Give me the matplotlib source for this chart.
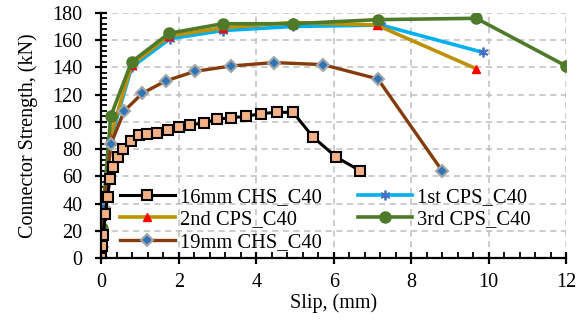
import matplotlib
matplotlib.use("Agg")
import matplotlib.pyplot as plt
from matplotlib.ticker import MultipleLocator

plt.rcParams['font.family'] = ['Liberation Serif', 'DejaVu Serif']

# Data
x16 = [0, 0.02, 0.05, 0.10, 0.16, 0.22, 0.30, 0.42, 0.57, 0.76, 0.97, 1.19, 1.44, 1.71,
       2.01, 2.30, 2.64, 2.99, 3.35, 3.73, 4.11, 4.53, 4.95, 5.46, 6.07, 6.69]
y16 = [0, 9, 17, 32, 45, 58, 67, 74, 80, 86, 90, 91, 92, 94,
       96, 98, 99, 102, 103, 104, 106, 107, 107, 89, 74, 64]

x1st = [0, 0.01, 0.22, 0.78, 1.77, 3.14, 4.95, 7.23, 9.85]
y1st = [0, 20, 85, 140, 161, 167, 170, 171, 151]

x2nd = [0, 0.01, 0.22, 0.78, 1.75, 3.13, 4.95, 7.11, 9.68]
y2nd = [0, 21, 88, 142, 163, 169, 173, 171, 139]

x3rd = [0, 0.01, 0.24, 0.78, 1.75, 3.13, 4.95, 7.14, 9.68, 12.0]
y3rd = [0, 22, 104, 144, 165, 172, 172, 175, 176, 141]

x19 = [0, 0.01, 0.07, 0.25, 0.59, 1.06, 1.66, 2.41, 3.35, 4.46, 5.72, 7.14, 8.80]
y19 = [0, 8, 37, 84, 108, 121, 130, 137, 141, 143.5, 142, 131.5, 64]

fig = plt.figure(figsize=(5.86, 3.21), dpi=100)
ax = fig.add_axes([0.173, 0.196, 0.793, 0.764])

h16, = ax.plot(x16, y16, color='black', lw=2.2, marker='s', ms=7.5,
               mfc='#F4B183', mec='black', mew=1.5, label='16mm CHS_C40', zorder=5)
h1, = ax.plot(x1st, y1st, color='#00B0F0', lw=2.6, marker=(6, 2, 0), ms=7,
              mec='#4472C4', mew=1.3, label='1st CPS_C40', zorder=3)
h2, = ax.plot(x2nd, y2nd, color='#BF9000', lw=2.6, marker='^', ms=6,
              mfc='#FF0000', mec='#FF0000', label='2nd CPS_C40', zorder=3.5)
h3, = ax.plot(x3rd, y3rd, color='#4E7A2A', lw=2.6, marker='o', ms=8,
              mfc='#4E7A2A', mec='#4E7A2A', label='3rd CPS_C40', zorder=4)
h19, = ax.plot(x19, y19, color='#843C0C', lw=2.4, marker='D', ms=6.5,
               mfc='#2E75B6', mec='#A5A5A5', mew=1.5, label='19mm CHS_C40', zorder=4.5)

ax.set_xlim(0, 12)
ax.set_ylim(0, 180)
ax.xaxis.set_major_locator(MultipleLocator(2))
ax.xaxis.set_minor_locator(MultipleLocator(0.4))
ax.yaxis.set_major_locator(MultipleLocator(20))
ax.yaxis.set_minor_locator(MultipleLocator(4))

ax.grid(True, which='major', color='#BFBFBF', ls=(0, (4, 3)), lw=1.1, zorder=0)
ax.set_axisbelow(True)
for s in ['top', 'right']:
    ax.spines[s].set_visible(False)
for s in ['left', 'bottom']:
    ax.spines[s].set_linewidth(1.6)
    ax.spines[s].set_zorder(6)

ax.tick_params(which='major', direction='inout', length=9, width=1.6, labelsize=14.5)
ax.tick_params(which='minor', direction='in', length=4, width=1.3)
ax.tick_params(axis='x', which='major', pad=6)
ax.tick_params(axis='y', which='major', pad=9)

ax.set_xlabel('Slip, (mm)', fontsize=14.5, labelpad=1)
ax.set_ylabel('Connector Strength, (kN)', fontsize=14.5, labelpad=10)

leg = ax.legend(handles=[h16, h2, h19, h1, h3], ncol=2, loc='lower left',
                bbox_to_anchor=(0.014, -0.025), frameon=False, fontsize=14.8,
                handlelength=2.65, handletextpad=0.25, columnspacing=1.75,
                labelspacing=0.15, borderaxespad=0.2)

fig.savefig('out.png', dpi=100)
